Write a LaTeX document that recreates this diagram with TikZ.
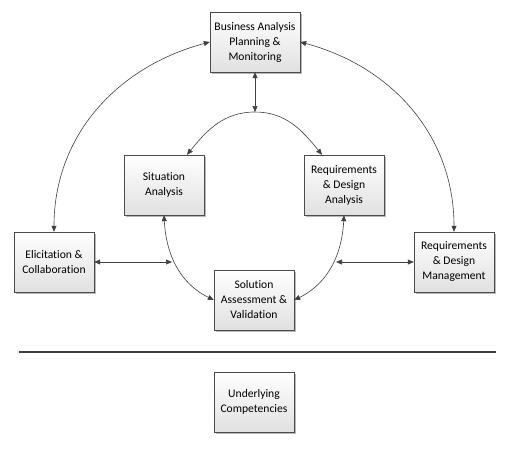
\documentclass[tikz,border=0pt]{standalone}
\usepackage{fontspec}
\setmainfont{Carlito}[Ligatures=NoCommon]
\usepackage{tikz}
\usetikzlibrary{shadows}
\usetikzlibrary{arrows.meta}
\usetikzlibrary{positioning}

\begin{document}
\begin{tikzpicture}[x=1pt,y=1pt,
    area/.style={draw=black!70,top color=white,bottom color=black!12,
      drop shadow={shadow xshift=2pt,shadow yshift=-2pt,fill=black!35,opacity=0.8},
      minimum width=80pt,minimum height=60pt,inner sep=1pt,align=center,
      font=\fontsize{11.6}{15}\selectfont},
    link/.style={draw=black!75,semithick,{Triangle[length=6pt,width=5pt]}-{Triangle[length=6pt,width=5pt]}}]
            \useasboundingbox (0,0) rectangle (513,-450);
            \node[area,minimum width=90pt] (bapm) at (255,-42) {Business Analysis\\Planning \&\\Monitoring};
            \node[area] (sa) at (164,-185) {Situation\\Analysis};
            \node[area] (rda) at (344,-185) {Requirements\\\& Design\\Analysis};
            \node[area] (ec) at (54,-262) {Elicitation \&\\Collaboration};
            \node[area] (rdm) at (454,-262) {Requirements\\\& Design\\Management};
            \node[area] (sav) at (254,-300) {Solution\\Assessment \&\\Validation};
            \node[area] (uc) at (254,-402) {Underlying\\Competencies};
            % points on the inner ring
            \coordinate (apex) at (255,-112);
            \coordinate (lmid) at (172,-262);
            \coordinate (rmid) at (336,-262);
            \draw[link] (bapm.south) -- (apex);
            \draw[link] ([xshift=23pt]sa.north) to[out=51,in=180] (apex) to[out=0,in=129] ([xshift=-22pt]rda.north);
            \draw[link] (sa.south) to[out=-87,in=154] (sav.west);
            \draw[link] (rda.south) to[out=-93,in=26] (sav.east);
            \draw[link] (bapm.west) to[out=195,in=90] (ec.north);
            \draw[link] (bapm.east) to[out=-15,in=90] (rdm.north);
            \draw[link] (ec.east) -- (lmid);
            \draw[link] (rmid) -- (rdm.west);
            % separator
            \draw[line width=2.5pt,black!75] (19,-352) -- (496,-352);
          \end{tikzpicture}
\end{document}
